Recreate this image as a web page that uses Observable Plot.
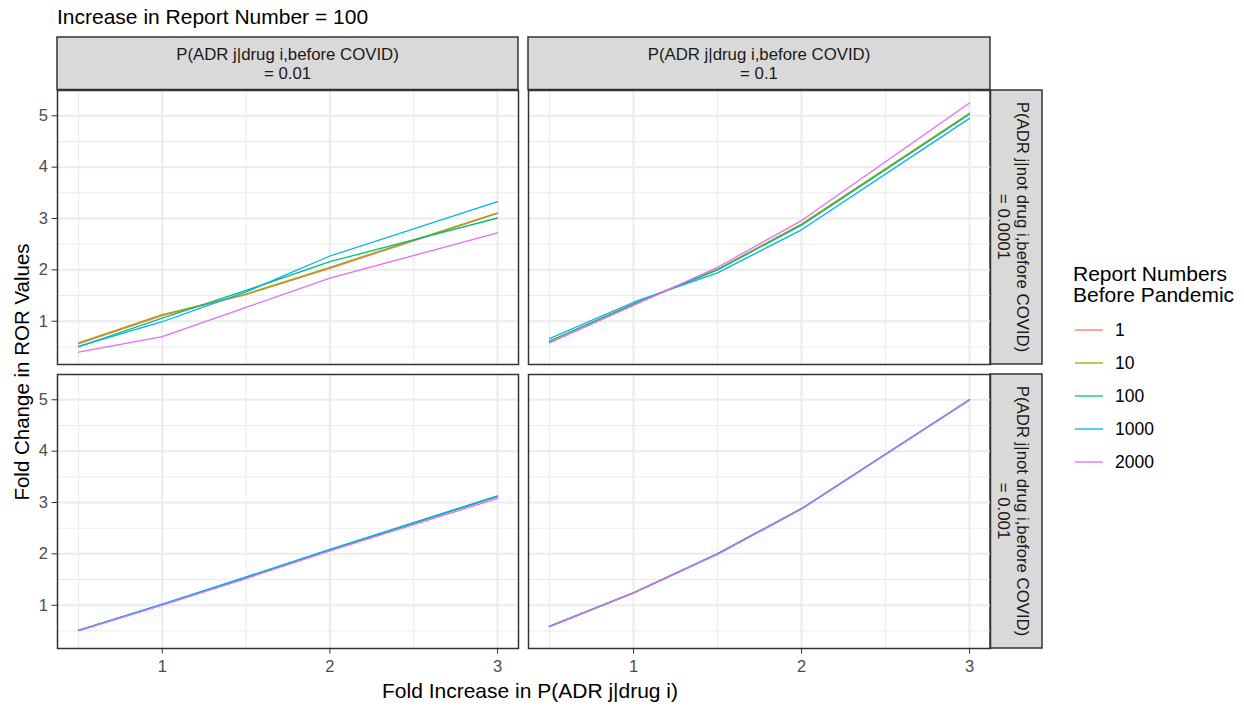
<!DOCTYPE html>
<html><head><meta charset="utf-8">
<script src="https://cdn.jsdelivr.net/npm/d3@7"></script>
<script src="https://cdn.jsdelivr.net/npm/@observablehq/plot@0.6"></script>
<style>
html,body{margin:0;padding:0;background:#fff;}
#chart{position:relative;width:1244px;height:708px;font-family:"Liberation Sans",Arial,sans-serif;overflow:hidden;}
#chart > .pnl{position:absolute;}
#chart > svg.bg{position:absolute;left:0;top:0;}
</style></head><body><div id="chart"></div>
<script>
// ---------- data ----------
const series = ["1", "10", "100", "1000", "2000"];
const seriesColors = ["#F8766D", "#A3A500", "#00BF7D", "#00B0F6", "#E76BF3"];
const foldIncrease = [0.5, 1, 1.5, 2, 3];
const colLabels = ["P(ADR j|drug i,before COVID)\n= 0.01", "P(ADR j|drug i,before COVID)\n= 0.1"];
const rowLabels = ["P(ADR j|not drug i,before COVID)\n= 0.0001", "P(ADR j|not drug i,before COVID)\n= 0.001"];
const xTicks = [1, 2, 3];
const xMinor = [0.5, 1.5, 2.5];
const yTicks = [1, 2, 3, 4, 5];
const yMinor = [0.5, 1.5, 2.5, 3.5, 4.5];
const titleText = "Increase in Report Number = 100";
const xTitle = "Fold Increase in P(ADR j|drug i)";
const yTitle = "Fold Change in ROR Values";
const legendTitle = ["Report Numbers", "Before Pandemic"];

// ROR fold change, one row per series (1, 10, 100, 1000, 2000)
const rorTopLeft = [
  [0.56, 1.11, 1.52, 2.03, 3.10],
  [0.58, 1.13, 1.53, 2.05, 3.11],
  [0.50, 1.06, 1.60, 2.16, 3.01],
  [0.51, 0.99, 1.57, 2.27, 3.33],
  [0.40, 0.70, 1.27, 1.84, 2.72]
];
const rorTopRight = [
  [0.61, 1.34, 2.01, 2.88, 5.04],
  [0.61, 1.34, 2.01, 2.89, 5.05],
  [0.61, 1.33, 2.00, 2.87, 5.03],
  [0.66, 1.37, 1.94, 2.78, 4.95],
  [0.58, 1.31, 2.05, 2.96, 5.25]
];
const rorBottomLeft = [
  [0.51, 1.01, 1.54, 2.08, 3.12],
  [0.51, 1.01, 1.54, 2.08, 3.12],
  [0.51, 1.01, 1.54, 2.08, 3.12],
  [0.51, 1.02, 1.55, 2.09, 3.13],
  [0.50, 1.00, 1.52, 2.06, 3.08]
];
const rorBottomRight = [
  [0.59, 1.24, 2.00, 2.88, 5.00],
  [0.59, 1.24, 2.00, 2.88, 5.00],
  [0.59, 1.24, 2.00, 2.88, 5.00],
  [0.59, 1.24, 2.00, 2.88, 5.00],
  [0.58, 1.24, 1.99, 2.87, 4.99]
];

// ---------- build table ----------
const panels = [[rorTopLeft, rorTopRight], [rorBottomLeft, rorBottomRight]];
const data = [];
panels.forEach((rowArr, r) => rowArr.forEach((vals, c) => vals.forEach((ys, s) =>
  ys.forEach((y, i) => data.push({row: r, col: c, series: series[s], x: foldIncrease[i], y})))));

function expand([a, b]) { const p = (b - a) * 0.05; return [a - p, b + p]; }
const xDom = expand(d3.extent(data, d => d.x));
const yDom = expand(d3.extent(data, d => d.y));
const fmt = d3.format("d");

// ---------- layout ----------
const colLeft = [57, 528], colW = [461, 462];
const rowTop = [90, 374], rowH = 274;
const stripTop = 37, stripH = 52.5;
const stripLeft = 990, stripW = 52;
const FONT = "Liberation Sans, Arial, sans-serif";

const chart = d3.select("#chart");
const bg = chart.append("svg").attr("class", "bg").attr("width", 1244).attr("height", 708)
  .style("font-family", FONT);

// title
bg.append("text").attr("x", 57).attr("y", 24).attr("font-size", 21).attr("fill", "#000").text(titleText);

// top strips
colLabels.forEach((lab, c) => {
  bg.append("rect").attr("x", colLeft[c]).attr("y", stripTop).attr("width", colW[c]).attr("height", stripH)
    .attr("fill", "#D9D9D9").attr("stroke", "#333").attr("stroke-width", 1.5);
  const g = bg.append("g").attr("transform", `translate(${colLeft[c] + colW[c] / 2},${stripTop + stripH / 2})`);
  lab.split("\n").forEach((t, i) => g.append("text").attr("y", i === 0 ? -3 : 16)
    .attr("text-anchor", "middle").attr("font-size", 16.8).attr("fill", "#1A1A1A").text(t));
});
// right strips
rowLabels.forEach((lab, r) => {
  bg.append("rect").attr("x", stripLeft).attr("y", rowTop[r]).attr("width", stripW).attr("height", rowH)
    .attr("fill", "#D9D9D9").attr("stroke", "#333").attr("stroke-width", 1.5);
  const g = bg.append("g").attr("transform", `translate(${stripLeft + stripW / 2},${rowTop[r] + rowH / 2}) rotate(90)`);
  lab.split("\n").forEach((t, i) => g.append("text").attr("y", i === 0 ? -0.5 : 18)
    .attr("text-anchor", "middle").attr("font-size", 16.8).attr("fill", "#1A1A1A").text(t));
});

// axis titles
bg.append("text").attr("x", 530).attr("y", 698).attr("text-anchor", "middle").attr("font-size", 21).text(xTitle);
bg.append("text").attr("transform", "translate(28.5,372) rotate(-90)").attr("text-anchor", "middle")
  .attr("font-size", 20.5).text(yTitle);

// legend
legendTitle.forEach((t, i) => bg.append("text").attr("x", 1073).attr("y", 281.2 + i * 21)
  .attr("font-size", 21).text(t));
series.forEach((s, i) => {
  const y = 330 + i * 33;
  bg.append("line").attr("x1", 1075).attr("x2", 1103).attr("y1", y).attr("y2", y)
    .attr("stroke", seriesColors[i]).attr("stroke-width", 1.3);
  bg.append("text").attr("x", 1115).attr("y", y + 6.3).attr("font-size", 17.5).text(s);
});

// ---------- panels ----------
for (let r = 0; r < 2; r++) for (let c = 0; c < 2; c++) {
  const mL = c === 0 ? 57 : 3, mR = 3, mT = 3, mB = r === 1 ? 40 : 3;
  const marks = [
    Plot.ruleX(xMinor, {stroke: "#EBEBEB", strokeWidth: 1}),
    Plot.ruleY(yMinor, {stroke: "#EBEBEB", strokeWidth: 1}),
    Plot.ruleX(xTicks, {stroke: "#EBEBEB", strokeWidth: 2}),
    Plot.ruleY(yTicks, {stroke: "#EBEBEB", strokeWidth: 2}),
    Plot.line(data.filter(d => d.row === r && d.col === c), {x: "x", y: "y", z: "series", stroke: "series", strokeWidth: 1.3}),
    Plot.frame({stroke: "#333", strokeWidth: 1.5})
  ];
  if (c === 0) marks.push(Plot.axisY({ticks: yTicks, tickFormat: fmt, tickSize: 5.5, tickPadding: 4, fontSize: 16.5,
    stroke: "#333", fill: "#4D4D4D", label: null}));
  if (r === 1) marks.push(Plot.axisX({ticks: xTicks, tickFormat: fmt, tickSize: 5.5, tickPadding: 6, fontSize: 16.5,
    stroke: "#333", fill: "#4D4D4D", label: null}));
  const xOpt = {domain: xDom};
  const yOpt = {domain: yDom};
  if (r !== 1) xOpt.axis = null;
  if (c !== 0) yOpt.axis = null;
  const p = Plot.plot({
    width: colW[c] + mL + mR, height: rowH + mT + mB,
    marginLeft: mL, marginRight: mR, marginTop: mT, marginBottom: mB,
    x: xOpt, y: yOpt,
    color: {domain: series, range: seriesColors},
    style: {fontFamily: FONT, background: "transparent", overflow: "visible"},
    marks
  });
  chart.append("div").attr("class", "pnl")
    .style("left", (colLeft[c] - mL) + "px").style("top", (rowTop[r] - mT) + "px")
    .node().appendChild(p);
}
</script></body></html>
